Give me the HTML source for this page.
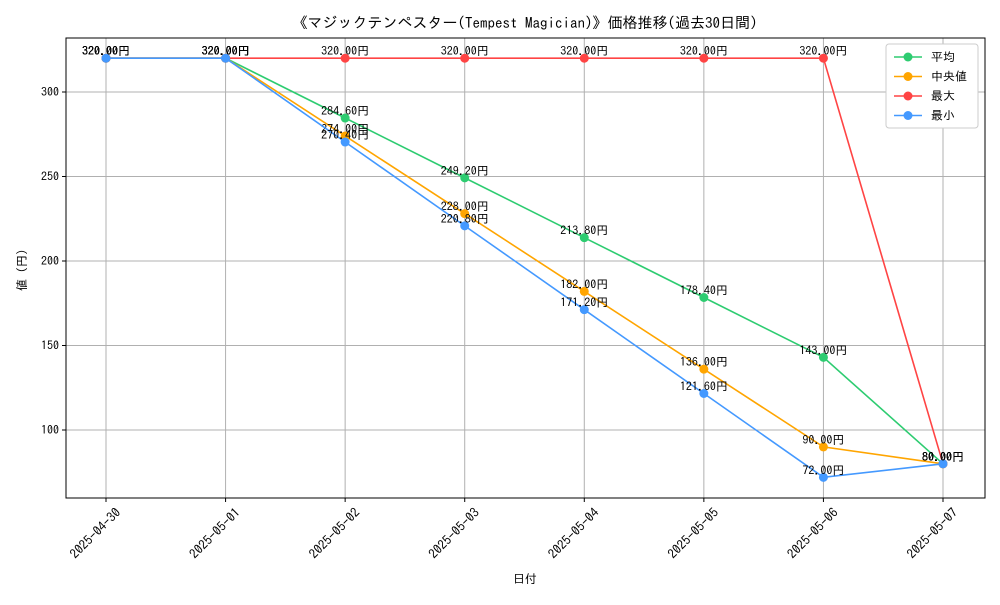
<!DOCTYPE html>
<html><head><meta charset="utf-8"><style>
body{margin:0;background:#fff;}
svg text{font-family:"IPAGothic","Noto Sans CJK JP",monospace;}
</style></head><body>
<svg id="chart" width="1000" height="600" xmlns="http://www.w3.org/2000/svg">
<rect width="1000" height="600" fill="#fff"/>
<text x="525" y="28" text-anchor="middle" font-size="15">《マジックテンペスター(Tempest Magician)》価格推移(過去30日間)</text>
<g id="grid"></g>
<g id="series"></g>
<rect x="66" y="38" width="919" height="460" fill="none" stroke="#000" stroke-width="1"/>
<g id="axes"></g>
<text x="525" y="583" text-anchor="middle" font-size="12">日付</text>
<text transform="translate(26,270) rotate(-90)" text-anchor="middle" font-size="12">値 (円)</text>
<g id="legend"></g>
</svg>
<script>
const categories=["2025-04-30","2025-05-01","2025-05-02","2025-05-03","2025-05-04","2025-05-05","2025-05-06","2025-05-07"];
const avgValues=[320,320,284.6,249.2,213.8,178.4,143,80];
const medianValues=[320,320,274,228,182,136,90,80];
const maxValues=[320,320,320,320,320,320,320,80];
const minValues=[320,320,270.4,220.8,171.2,121.6,72,80];
const yTicks=[100,150,200,250,300];
const seriesNames=["平均","中央値","最大","最小"];
const NS="http://www.w3.org/2000/svg";
const X0=106,X1=943,L=66,R=985,T=38,B=498;
function xs(i){return X0+(X1-X0)*i/(categories.length-1);}
function ys(v){return 430-(v-100)*1.69;}
function mk(tag,attrs,parent){const e=document.createElementNS(NS,tag);for(const k in attrs)e.setAttribute(k,attrs[k]);parent.appendChild(e);return e;}
const grid=document.getElementById('grid'),axes=document.getElementById('axes'),ser=document.getElementById('series'),leg=document.getElementById('legend');
categories.forEach((c,i)=>{
 const x=xs(i);
 const g=mk('line',{x1:x,x2:x,y1:T,y2:B,stroke:'#b0b0b0','stroke-width':1},grid);
 
 
 const t=mk('line',{x1:x,x2:x,y1:B,y2:B+4,stroke:'#000'},axes);
 
 
 const tx=mk('text',{transform:`translate(${x+9},${B+9}) rotate(-45)`,'text-anchor':'end','font-size':13,dy:'0.7em'},axes);
 tx.textContent=c;
 
 
});
yTicks.forEach(v=>{
 const y=ys(v);
 const g=mk('line',{x1:L,x2:R,y1:y,y2:y,stroke:'#b0b0b0','stroke-width':1},grid);
 
 
 const t=mk('line',{x1:L-4,x2:L,y1:y,y2:y,stroke:'#000'},axes);
 
 
 const tx=mk('text',{x:L-7,y:y+4,'text-anchor':'end','font-size':12},axes);
 tx.textContent=v;
 
 
});
const allSeries=[[avgValues,'#2ecc71','avg'],[medianValues,'#ffa500','median'],[maxValues,'#ff4444','max'],[minValues,'#4499ff','min']];
allSeries.forEach(([vals,col,key])=>{
 const g=mk('g',{},ser);
 
 
 const p=mk('polyline',{points:vals.map((v,i)=>xs(i)+','+ys(v)).join(' '),fill:'none',stroke:col,'stroke-width':1.6},g);
 
 
 vals.forEach((v,i)=>{
  const c=mk('circle',{cx:xs(i),cy:ys(v),r:4.5,fill:col},g);
  
  
  const t=mk('text',{x:xs(i),y:ys(v)-3,'text-anchor':'middle','font-size':12},g);
  t.textContent=v.toFixed(2)+'円';
  
  
 });
});
mk('rect',{x:886,y:44,width:92,height:84,fill:'#fff',stroke:'#ccc',rx:3},leg);
allSeries.forEach(([vals,col,key],i)=>{
 const y=57+i*19.5;
 const g=mk('g',{},leg);
 
 
 mk('line',{x1:894,x2:922,y1:y,y2:y,stroke:col,'stroke-width':1.6},g);
 mk('circle',{cx:908,cy:y,r:4.5,fill:col},g);
 const t=mk('text',{x:931,y:y+4,'font-size':12},g);
 t.textContent=seriesNames[i];
});
</script>
</body></html>
